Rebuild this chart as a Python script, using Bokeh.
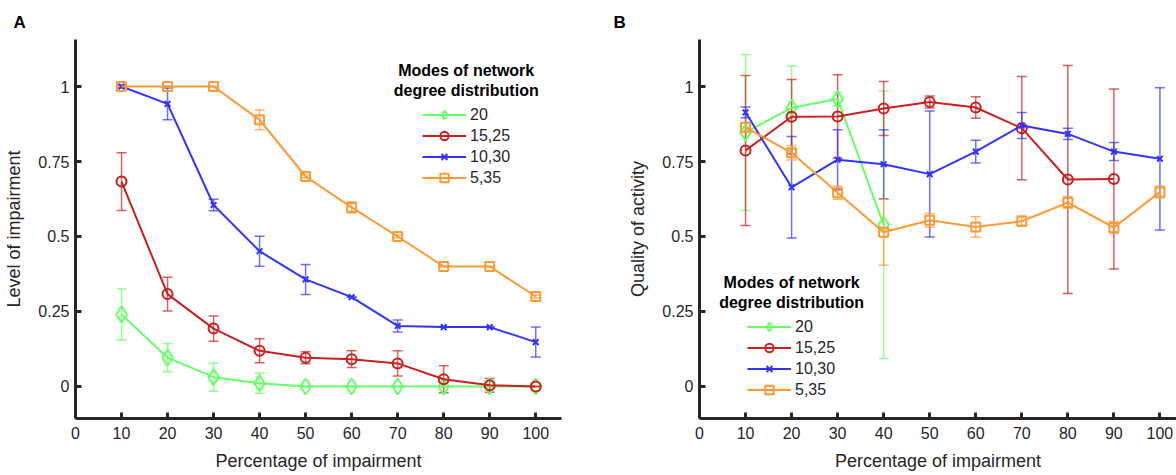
import math
from bokeh.plotting import figure
from bokeh.layouts import row
from bokeh.models import (ColumnDataSource, Whisker, TeeHead, FixedTicker, Legend, LegendItem,
                          Label, Range1d, Title)
from bokeh.embed import file_html
from bokeh.resources import INLINE

nan = float("nan")

# ---------------- data ----------------
pct = [10, 20, 30, 40, 50, 60, 70, 80, 90, 100]
series_names = ["20", "15,25", "10,30", "5,35"]

# Panel A: Level of impairment
a_20 = [0.24, 0.096, 0.031, 0.011, 0.0, 0.0, 0.0, 0.0, 0.0, 0.0]
a_20_err = [0.085, 0.047, 0.047, 0.034, 0.0, 0.0, 0.0, 0.0, 0.0, 0.0]
a_1525 = [0.683, 0.308, 0.193, 0.119, 0.096, 0.091, 0.077, 0.024, 0.004, 0.0]
a_1525_err = [0.096, 0.056, 0.042, 0.04, 0.02, 0.028, 0.042, 0.045, 0.023, 0.0]
a_1030 = [1.0, 0.942, 0.605, 0.451, 0.357, 0.298, 0.202, 0.198, 0.198, 0.148]
a_1030_err = [0.005, 0.053, 0.019, 0.05, 0.05, 0.0, 0.02, 0.0, 0.0, 0.05]
a_535 = [1.0, 1.0, 1.0, 0.889, 0.7, 0.597, 0.5, 0.4, 0.4, 0.3]
a_535_err = [0.0, 0.0, 0.0, 0.033, 0.005, 0.019, 0.005, 0.0, 0.0, 0.005]

# Panel B: Quality of activity
b_20 = [0.847, 0.929, 0.958, 0.539, nan, nan, nan, nan, nan, nan]
b_20_err = [0.26, 0.14, 0.022, 0.446, nan, nan, nan, nan, nan, nan]
b_1525 = [0.787, 0.899, 0.9, 0.927, 0.948, 0.93, 0.861, 0.69, 0.692, nan]
b_1525_err = [0.25, 0.124, 0.139, 0.09, 0.02, 0.036, 0.172, 0.38, 0.30, nan]
b_1030 = [0.914, 0.664, 0.756, 0.741, 0.708, 0.783, 0.87, 0.842, 0.783, 0.759]
b_1030_err = [0.018, 0.169, 0.1, 0.115, 0.21, 0.038, 0.043, 0.019, 0.03, 0.237]
b_535 = [0.864, 0.779, 0.646, 0.514, 0.554, 0.532, 0.551, 0.613, 0.53, 0.648]
b_535_err = [0.015, 0.024, 0.022, 0.11, 0.023, 0.034, 0.017, 0.02, 0.02, 0.02]

x_ticks = [0, 10, 20, 30, 40, 50, 60, 70, 80, 90, 100]
y_ticks = [0, 0.25, 0.5, 0.75, 1]
y_tick_labels = ["0", "0.25", "0.5", "0.75", "1"]

# ---------------- styles ----------------
colors = ["#66ff66", "#cc1f1f", "#3333ff", "#ff9933"]
markers = ["diamond", "circle", "x", "square"]
msizes = [16, 10, 8, 9]
FONT = "Liberation Sans"
TXT = "#262626"


def make_fig(width, left, right, xmax, ylabel, letter):
    p = figure(width=width, height=475, output_backend="svg", toolbar_location=None,
               x_range=Range1d(0, xmax), y_range=Range1d(-0.1067, 1.1567),
               min_border_left=left, min_border_right=right,
               min_border_top=39, min_border_bottom=57,
               title=Title(text=letter, align="left", offset=-(left - 13),
                           text_font=FONT, text_font_size="17px", text_font_style="bold",
                           text_color="black", standoff=16, vertical_align="bottom"))
    p.outline_line_color = None
    p.grid.visible = False
    p.background_fill_color = "white"
    p.border_fill_color = "white"
    p.xaxis.ticker = FixedTicker(ticks=x_ticks)
    p.yaxis.ticker = FixedTicker(ticks=y_ticks)
    p.yaxis.major_label_overrides = {t: l for t, l in zip(y_ticks, y_tick_labels)}
    for ax in (p.xaxis[0], p.yaxis[0]):
        ax.axis_line_width = 3
        ax.axis_line_color = TXT
        ax.major_tick_line_width = 3
        ax.major_tick_line_color = TXT
        ax.major_tick_in = 6
        ax.major_tick_out = 0
        ax.minor_tick_line_color = None
        ax.major_label_text_font = FONT
        ax.major_label_text_font_size = "16px"
        ax.major_label_text_color = TXT
        ax.axis_label_text_font = FONT
        ax.axis_label_text_font_size = "18px"
        ax.axis_label_text_font_style = "normal"
        ax.axis_label_text_color = TXT
    p.xaxis.major_label_standoff = 8
    p.yaxis.major_label_standoff = 6
    p.xaxis.axis_label = "Percentage of impairment"
    p.yaxis.axis_label = ylabel
    p.xaxis.axis_label_standoff = 9
    p.yaxis.axis_label_standoff = 11
    return p


def add_series(p, ys, errs, color, marker, msize):
    src = ColumnDataSource(dict(x=pct, y=ys))
    keep = [i for i in range(len(pct)) if not math.isnan(ys[i])]
    esrc = ColumnDataSource(dict(
        base=[pct[i] for i in keep],
        upper=[ys[i] + errs[i] for i in keep],
        lower=[ys[i] - errs[i] for i in keep]))
    w = Whisker(source=esrc, base="base", upper="upper", lower="lower", dimension="height",
                line_color=color, line_width=1.5, line_alpha=0.7,
                upper_head=TeeHead(size=10, line_color=color, line_width=1.5, line_alpha=0.7),
                lower_head=TeeHead(size=10, line_color=color, line_width=1.5, line_alpha=0.7))
    p.add_layout(w)
    ln = p.line("x", "y", source=src, line_color=color, line_width=2)
    sc = p.scatter("x", "y", source=src, marker=marker, size=msize, line_color=color,
                   fill_color=None, line_width=2)
    return ln, sc


def add_legend(p, rends, loc, tx, ty1, ty2):
    items = [LegendItem(label=n, renderers=list(r)) for n, r in zip(series_names, rends)]
    lg = Legend(items=items, location=loc, padding=0, margin=0, spacing=0,
                glyph_width=44, glyph_height=21, label_height=21, label_standoff=4,
                border_line_color=None, background_fill_alpha=0,
                label_text_font=FONT, label_text_font_size="16px", label_text_color=TXT)
    p.add_layout(lg)
    for txt, ty in (("Modes of network", ty1), ("degree distribution", ty2)):
        p.add_layout(Label(x=tx, y=ty, text=txt, text_align="center", text_baseline="middle",
                           text_font=FONT, text_font_size="16px", text_font_style="bold",
                           text_color="black"))


# ---------------- Panel A ----------------
pA = make_fig(600, 75, 39, 105.6, "Level of impairment", "A")
rA = []
for ys, es, c, m, s in zip([a_20, a_1525, a_1030, a_535], [a_20_err, a_1525_err, a_1030_err, a_535_err],
                           colors, markers, msizes):
    rA.append(add_series(pA, ys, es, c, m, s))
add_legend(pA, rA, (347, 230), 84.9, 1.053, 0.987)

# ---------------- Panel B ----------------
pB = make_fig(576, 99, 0, 103.6, "Quality of activity", "B")
rB = []
for ys, es, c, m, s in zip([b_20, b_1525, b_1030, b_535], [b_20_err, b_1525_err, b_1030_err, b_535_err],
                           colors, markers, msizes):
    rB.append(add_series(pB, ys, es, c, m, s))
add_legend(pB, rB, (48, 18), 20.0, 0.346, 0.281)

layout = row(pA, pB, spacing=0)
open("out.html", "w").write(file_html(layout, INLINE))
